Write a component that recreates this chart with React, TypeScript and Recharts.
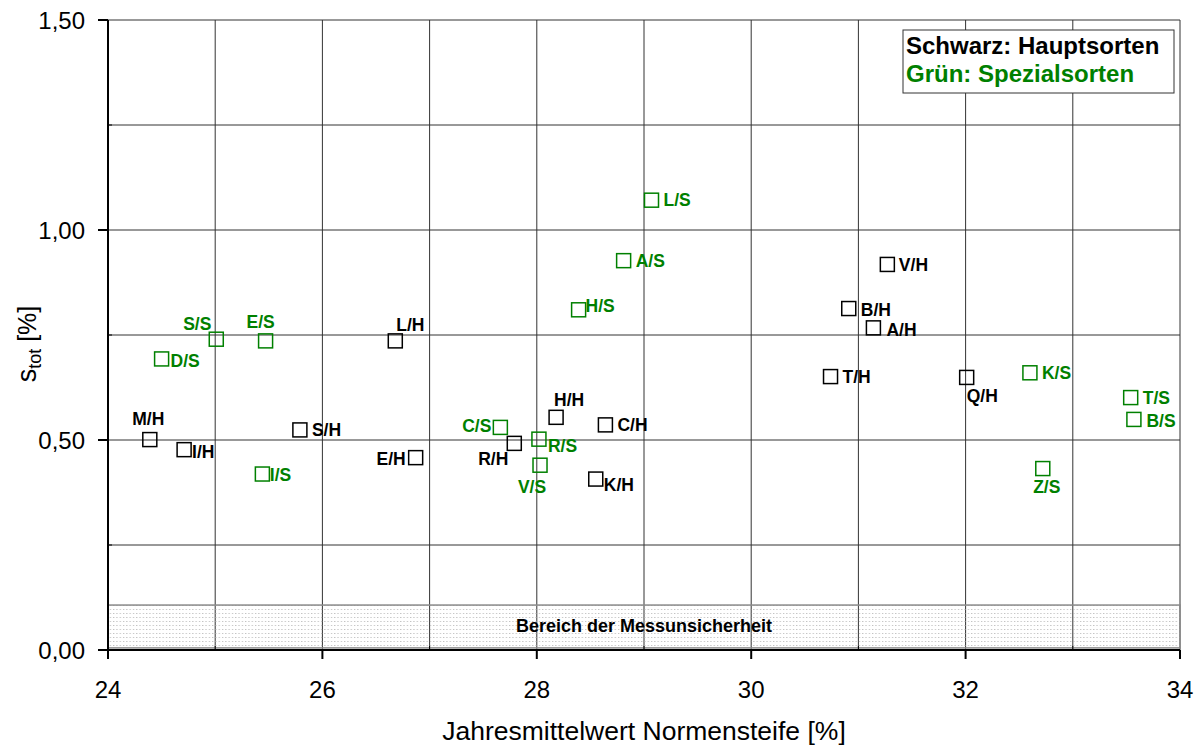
import React from 'react';
import { ScatterChart, Scatter, XAxis, YAxis, CartesianGrid, ReferenceArea } from 'recharts';

// ---- data ----
const mainNames = ['M/H', 'I/H', 'S/H', 'L/H', 'E/H', 'R/H', 'H/H', 'K/H', 'C/H', 'T/H', 'B/H', 'A/H', 'V/H', 'Q/H'];
const mainX = [24.39, 24.71, 25.79, 26.68, 26.87, 27.79, 28.18, 28.55, 28.64, 30.74, 30.91, 31.14, 31.27, 32.01];
const mainY = [0.501, 0.477, 0.524, 0.736, 0.458, 0.492, 0.554, 0.407, 0.536, 0.651, 0.813, 0.767, 0.918, 0.649];

const specNames = ['D/S', 'S/S', 'E/S', 'I/S', 'C/S', 'R/S', 'V/S', 'H/S', 'A/S', 'L/S', 'K/S', 'Z/S', 'T/S', 'B/S'];
const specX = [24.5, 25.01, 25.47, 25.44, 27.66, 28.02, 28.03, 28.39, 28.81, 29.07, 32.6, 32.72, 33.54, 33.57];
const specY = [0.693, 0.74, 0.736, 0.419, 0.53, 0.502, 0.44, 0.81, 0.927, 1.071, 0.66, 0.432, 0.601, 0.549];

const xTicks = [24, 25, 26, 27, 28, 29, 30, 31, 32, 33, 34];
const yTicks = [0, 0.25, 0.5, 0.75, 1.0, 1.25, 1.5];
const bandLow = 0.005;
const bandHigh = 0.107;

const mainData = mainNames.map((n, i) => ({ name: n, x: mainX[i], y: mainY[i] }));
const specData = specNames.map((n, i) => ({ name: n, x: specX[i], y: specY[i] }));

// ---- styles ----
const FONT = '"Liberation Sans", Arial, sans-serif';
const BLACK = '#000000';
const GREEN = '#008000';

// label placement relative to marker centre: [dx, dy, anchor]
const labelPlace: Record<string, [number, number, string]> = {
  'M/H': [-1.5, -20.5, 'middle'],
  'I/H': [8, 2.5, 'start'],
  'S/H': [12, 0, 'start'],
  'L/H': [15, -16, 'middle'],
  'E/H': [-10, 1.5, 'end'],
  'R/H': [-21, 15.5, 'middle'],
  'H/H': [13, -18, 'middle'],
  'K/H': [8, 6, 'start'],
  'C/H': [12, 0, 'start'],
  'T/H': [12, 0.5, 'start'],
  'B/H': [12, 1, 'start'],
  'A/H': [13, 2, 'start'],
  'V/H': [11.5, 0, 'start'],
  'Q/H': [0, 18.5, 'start'],
  'D/S': [9, 2, 'start'],
  'S/S': [-19, -16, 'middle'],
  'E/S': [-5, -19, 'middle'],
  'I/S': [7.5, 1, 'start'],
  'C/S': [-9, -1.5, 'end'],
  'R/S': [9, 7, 'start'],
  'V/S': [-8, 21, 'middle'],
  'H/S': [7, -4, 'start'],
  'A/S': [12, 0, 'start'],
  'L/S': [12, 0, 'start'],
  'K/S': [12, 0, 'start'],
  'Z/S': [4, 18, 'middle'],
  'T/S': [12, 0.5, 'start'],
  'B/S': [12.5, 1, 'start'],
};

const makeShape = (color: string) => (props: any) => {
  const { cx, cy, payload } = props;
  if (cx == null || cy == null) return <g />;
  const place = labelPlace[payload.name] || [12, 0, 'start'];
  return (
    <g>
      <rect x={cx - 7} y={cy - 7} width={14} height={14} fill="none" stroke={color} strokeWidth={1.5} />
      <text
        x={cx + place[0]}
        y={cy + place[1] + 6.3}
        textAnchor={place[2] as any}
        fontFamily={FONT}
        fontWeight="bold"
        fontSize={17.5}
        fill={color}
      >
        {payload.name}
      </text>
    </g>
  );
};

const XTick = (props: any) => {
  const { x, y, payload } = props;
  const v = payload.value;
  const major = Math.abs(v % 2) < 1e-6;
  return (
    <g>
      {major ? (
        <>
          <line x1={x} x2={x} y1={y} y2={y + 9} stroke={BLACK} strokeWidth={2} />
          <text x={x} y={y + 48} textAnchor="middle" fontFamily={FONT} fontSize={24} fill={BLACK}>
            {v}
          </text>
        </>
      ) : (
        <line x1={x} x2={x} y1={y - 4} y2={y} stroke={BLACK} strokeWidth={1} />
      )}
    </g>
  );
};

const YTick = (props: any) => {
  const { x, y, payload } = props;
  const v = payload.value;
  const major = Math.abs((v * 2) % 1) < 1e-6;
  return (
    <g>
      {major ? (
        <>
          <line x1={x - 10} x2={x} y1={y} y2={y} stroke={BLACK} strokeWidth={2} />
          <text x={x - 23} y={y + 8.5} textAnchor="end" fontFamily={FONT} fontSize={24} fill={BLACK}>
            {v.toFixed(2).replace('.', ',')}
          </text>
        </>
      ) : (
        <line x1={x} x2={x + 4} y1={y} y2={y} stroke={BLACK} strokeWidth={1} />
      )}
    </g>
  );
};

const BandShape = (props: any) => {
  const { x, y, width, height } = props;
  return (
    <g>
      <defs>
        <pattern id="dotsPattern" width={3.3} height={4} patternUnits="userSpaceOnUse">
          <rect x={1} y={1} width={1} height={1} fill="#b0b0b0" />
        </pattern>
      </defs>
      <rect x={x} y={y} width={width} height={height} fill="url(#dotsPattern)" stroke="#8a8a8a" strokeWidth={1.5} />
      <text
        x={x + width / 2}
        y={y + height / 2 + 6}
        textAnchor="middle"
        fontFamily={FONT}
        fontWeight="bold"
        fontSize={18}
        fill={BLACK}
      >
        Bereich der Messunsicherheit
      </text>
    </g>
  );
};

export default function App() {
  return (
    <div style={{ position: 'absolute', left: 0, top: 0, width: 1203, height: 748, background: '#fff' }}>
      <ScatterChart width={1203} height={748} margin={{ top: 20, right: 23, bottom: 0, left: 0 }}>
        <CartesianGrid stroke="#333333" strokeWidth={1} />
        <ReferenceArea y1={bandLow} y2={bandHigh} shape={BandShape} ifOverflow="visible" />
        <XAxis
          type="number"
          dataKey="x"
          domain={[24, 34]}
          ticks={xTicks}
          interval={0}
          height={98}
          tickSize={0}
          tickMargin={0}
          tickLine={false}
          tick={<XTick />}
          axisLine={{ stroke: BLACK, strokeWidth: 2 }}
          allowDataOverflow
        />
        <YAxis
          type="number"
          dataKey="y"
          domain={[0, 1.5]}
          ticks={yTicks}
          interval={0}
          width={108}
          tickSize={0}
          tickMargin={0}
          tickLine={false}
          tick={<YTick />}
          axisLine={{ stroke: BLACK, strokeWidth: 2 }}
          allowDataOverflow
        />
        <Scatter data={mainData} shape={makeShape(BLACK)} isAnimationActive={false} />
        <Scatter data={specData} shape={makeShape(GREEN)} isAnimationActive={false} />
      </ScatterChart>
      <svg
        width={1203}
        height={748}
        style={{ position: 'absolute', left: 0, top: 0, pointerEvents: 'none' }}
      >
        <rect x={903} y={30} width={271} height={63} fill="#ffffff" stroke="#333333" strokeWidth={1} />
        <text x={906} y={54} fontFamily={FONT} fontWeight="bold" fontSize={24} fill={BLACK}>
          Schwarz: Hauptsorten
        </text>
        <text x={906} y={82} fontFamily={FONT} fontWeight="bold" fontSize={24} fill={GREEN}>
          Grün: Spezialsorten
        </text>
        <text x={644} y={740} textAnchor="middle" fontFamily={FONT} fontSize={26.5} fill={BLACK}>
          Jahresmittelwert Normensteife [%]
        </text>
        <text
          x={36}
          y={344}
          textAnchor="middle"
          fontFamily={FONT}
          fill={BLACK}
          transform="rotate(-90, 36, 344)"
        >
          <tspan fontSize={27}>s</tspan>
          <tspan fontSize={18} dy={5}>tot</tspan>
          <tspan fontSize={25} dy={-5}> [%]</tspan>
        </text>
      </svg>
    </div>
  );
}
